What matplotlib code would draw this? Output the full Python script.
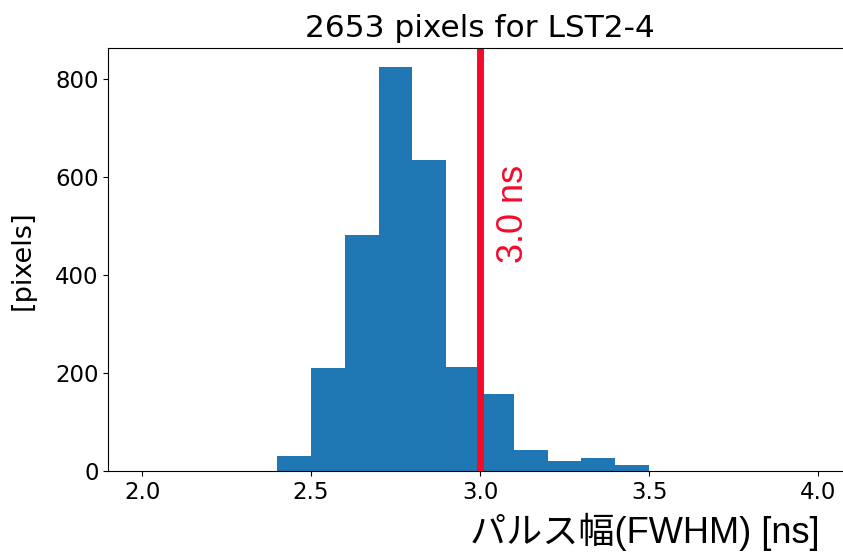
import numpy as np
import matplotlib
matplotlib.use("Agg")
import matplotlib.pyplot as plt

# pulse width histogram (FWHM), 0.1 ns bins
bin_edges = [2.4, 2.5, 2.6, 2.7, 2.8, 2.9, 3.0, 3.1, 3.2, 3.3, 3.4, 3.5]
counts = [31, 210, 481, 823, 634, 213, 157, 43, 21, 27, 13]
threshold = 3.0
n_pixels = 2653
camera = "LST2-4"

fig = plt.figure(figsize=(8.43, 5.58), dpi=100)
ax = fig.add_axes([0.1285, 0.1559, 0.882, 0.7575])

centers = np.array(bin_edges[:-1]) + 0.05
ax.hist(centers, bins=bin_edges, weights=counts, color="#1f77b4")

ax.axvline(threshold, color="#f50a2a", linewidth=5)
ax.text(threshold + 0.1, 525, f"{threshold:.1f} ns", rotation=90,
        color="#f50a2a", fontsize=26, family=["Liberation Sans", "DejaVu Sans"],
        ha="center", va="center")

ax.set_xlim(1.9, 4.1)
ax.set_ylim(0, 862)
ax.set_xticks([2.0, 2.5, 3.0, 3.5, 4.0])
ax.set_yticks([0, 200, 400, 600, 800])
ax.tick_params(labelsize=16.5)
ax.spines["right"].set_visible(False)

ax.set_title(f"{n_pixels} pixels for {camera}", fontsize=22.5, pad=8)
ax.set_ylabel("[pixels]", fontsize=19.5, labelpad=14)

fig.text(0.9727, 0.027, "パルス幅(FWHM) [ns]", fontsize=26,
         family=["Liberation Sans", "Noto Sans CJK JP"], ha="right", va="baseline")

fig.savefig("out.png", dpi=100)
